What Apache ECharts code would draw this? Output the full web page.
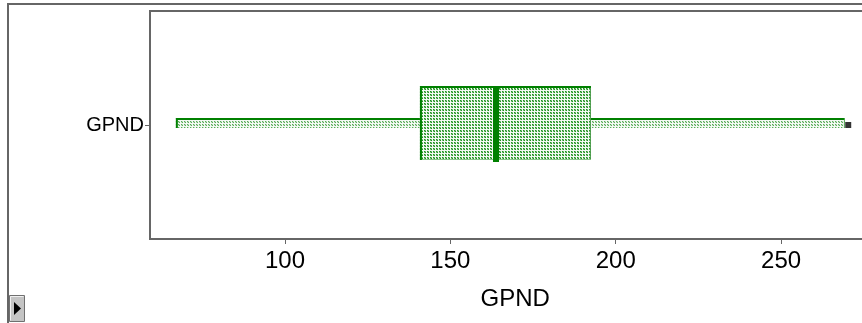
<!DOCTYPE html>
<html>
<head>
<meta charset="utf-8">
<script src="https://cdn.jsdelivr.net/npm/echarts@6/dist/echarts.min.js"></script>
<style>
  html, body { margin: 0; padding: 0; background: #fff; }
  #chart { width: 862px; height: 323px; }
</style>
</head>
<body>
<div id="chart"></div>
<script>
// Variable and its five-number summary: [low whisker, Q1, median, Q3, high whisker]
const categories = ['GPND'];
const summary = [[67, 140.8, 163.8, 192.5, 269.3]];
const outliers = [270.3];
const tickValues = [100, 150, 200, 250];
const axisName = 'GPND';

// Small dotted tile used to shade the box and the whisker bars
function makeTile(dark, light) {
  const c = document.createElement('canvas');
  c.width = 3; c.height = 3;
  const g = c.getContext('2d');
  g.fillStyle = '#f4faf4'; g.fillRect(0, 0, 3, 3);
  g.fillStyle = light; g.fillRect(1, 1, 2, 2);
  g.fillStyle = dark; g.fillRect(1, 1, 1, 1); g.fillRect(2, 2, 1, 1);
  return { image: c, repeat: 'repeat' };
}
const boxFill = makeTile('#1f8f1f', '#7cc27c');
const whiskerFill = makeTile('#58ab58', '#bfe0bf');

const GREEN = '#008000';
const BOX_H = 74, WHISKER_H = 10, MEDIAN_W = 6;

function renderBox(params, api) {
  const cat = api.value(0);
  const p = (v) => api.coord([v, cat]);
  const lo = p(api.value(1)), q1 = p(api.value(2)), md = p(api.value(3)),
        q3 = p(api.value(4)), hi = p(api.value(5));
  const cy = lo[1] - 2;
  const bt = cy - BOX_H / 2, wt = cy - WHISKER_H / 2;
  const kids = [];
  // left whisker bar
  kids.push({ type: 'rect', shape: { x: lo[0], y: wt, width: q1[0] - lo[0], height: WHISKER_H },
    style: { fill: whiskerFill } });
  kids.push({ type: 'polyline', shape: { points: [[lo[0] + 1, wt + WHISKER_H], [lo[0] + 1, wt + 1], [q1[0], wt + 1]] },
    style: { stroke: GREEN, lineWidth: 2, fill: null } });
  // right whisker bar
  kids.push({ type: 'rect', shape: { x: q3[0], y: wt, width: hi[0] - q3[0], height: WHISKER_H },
    style: { fill: whiskerFill } });
  kids.push({ type: 'line', shape: { x1: q3[0], y1: wt + 1, x2: hi[0], y2: wt + 1 },
    style: { stroke: GREEN, lineWidth: 2 } });
  kids.push({ type: 'line', shape: { x1: hi[0] - 0.5, y1: wt, x2: hi[0] - 0.5, y2: wt + WHISKER_H },
    style: { stroke: '#5aa85a', lineWidth: 1 } });
  // interquartile box
  kids.push({ type: 'rect', shape: { x: q1[0], y: bt, width: q3[0] - q1[0], height: BOX_H },
    style: { fill: boxFill } });
  kids.push({ type: 'line', shape: { x1: q3[0] - 0.5, y1: bt, x2: q3[0] - 0.5, y2: bt + BOX_H },
    style: { stroke: '#4a9a4a', lineWidth: 1 } });
  kids.push({ type: 'line', shape: { x1: q1[0], y1: bt + BOX_H - 0.5, x2: q3[0], y2: bt + BOX_H - 0.5 },
    style: { stroke: '#8cc48c', lineWidth: 1 } });
  kids.push({ type: 'polyline', shape: { points: [[q1[0] + 1, bt + BOX_H], [q1[0] + 1, bt + 1], [q3[0], bt + 1]] },
    style: { stroke: GREEN, lineWidth: 2, fill: null } });
  // median bar
  kids.push({ type: 'rect', shape: { x: md[0] - MEDIAN_W / 2, y: bt, width: MEDIAN_W, height: BOX_H + 2 },
    style: { fill: GREEN } });
  return { type: 'group', children: kids };
}

const chart = echarts.init(document.getElementById('chart'), null, { renderer: 'canvas' });
chart.setOption({
  animation: false,
  backgroundColor: '#ffffff',
  textStyle: { fontFamily: 'Liberation Sans, Arial, sans-serif' },
  graphic: [{
    type: 'rect', x: 8, y: 4, z: 0, silent: true,
    shape: { x: 0, y: 0, width: 920, height: 360 },
    style: { fill: null, stroke: '#666666', lineWidth: 2 }
  }, {
    type: 'group', x: 9, y: 295, children: [
      { type: 'rect', shape: { x: 0.5, y: 0.5, width: 15, height: 26 },
        style: { fill: '#c4c4c4', stroke: '#707070', lineWidth: 1 } },
      { type: 'line', shape: { x1: 1.5, y1: 1.5, x2: 14.5, y2: 1.5 }, style: { stroke: '#f0f0f0', lineWidth: 1 } },
      { type: 'line', shape: { x1: 1.5, y1: 1.5, x2: 1.5, y2: 25.5 }, style: { stroke: '#f0f0f0', lineWidth: 1 } },
      { type: 'polygon', shape: { points: [[5, 7], [12, 13.5], [5, 20]] },
        style: { fill: '#000000' } }
    ]
  }],
  grid: {
    left: 150, top: 11, width: 730.3, height: 228,
    outerBoundsMode: 'none', containLabel: false,
    show: true, borderColor: '#666666', borderWidth: 2, backgroundColor: '#ffffff'
  },
  xAxis: {
    type: 'value', min: 59.18, max: 280,
    name: axisName, nameLocation: 'middle', nameGap: 48,
    nameTextStyle: { fontSize: 24, color: '#000' },
    splitLine: { show: false },
    axisLine: { show: true, lineStyle: { color: '#666666', width: 2 } },
    axisTick: { show: true, length: 5, customValues: tickValues, lineStyle: { color: '#666666', width: 1 } },
    axisLabel: { customValues: tickValues, fontSize: 24, color: '#000', margin: 10 }
  },
  yAxis: {
    type: 'category', data: categories,
    axisLine: { show: true, lineStyle: { color: '#666666', width: 2 } },
    axisTick: { show: true, length: 5, alignWithLabel: true, lineStyle: { color: '#666666', width: 1 } },
    axisLabel: { fontSize: 20, color: '#000', margin: 6 },
    splitLine: { show: false }
  },
  series: [{
    type: 'custom',
    renderItem: renderBox,
    encode: { x: [1, 2, 3, 4, 5], y: 0 },
    data: summary.map((s, i) => [i].concat(s)),
    z: 3
  }, {
    type: 'scatter',
    symbol: 'rect', symbolSize: 6,
    itemStyle: { color: '#000000' },
    data: outliers.map((v, i) => [v, i]),
    z: 4
  }]
});
</script>
</body>
</html>
